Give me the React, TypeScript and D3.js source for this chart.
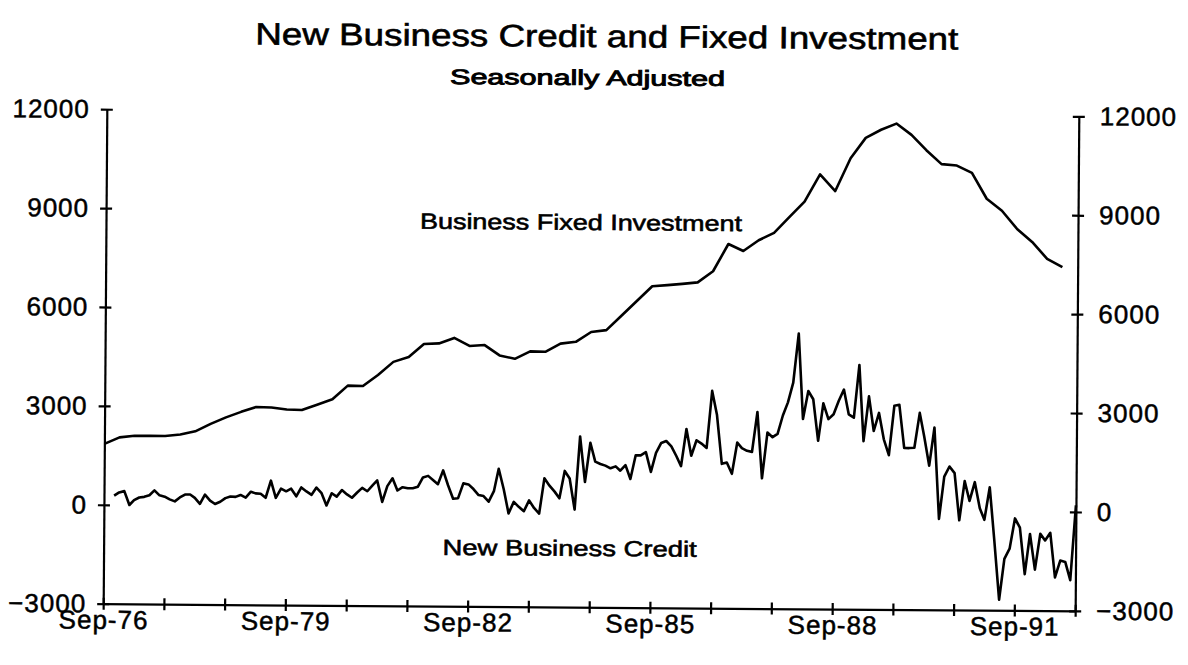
import React, { useEffect, useRef } from 'react';
import * as d3 from 'd3';

// chart texts
const chartTitle = 'New Business Credit and Fixed Investment';
const chartSubtitle = 'Seasonally Adjusted';
const investmentLabel = 'Business Fixed Investment';
const creditLabel = 'New Business Credit';

// axis ticks
const yTicks = [-3000, 0, 3000, 6000, 9000, 12000];
const labelYears = [1976, 1979, 1982, 1985, 1988, 1991];

// Business fixed investment, quarterly, Q3-1976 .. Q2-1992
const fixedInvestment = [
  1850, 2050, 2100, 2100, 2100, 2150, 2250, 2480, 2680, 2850, 3000, 2990, 2930, 2920, 3080, 3250,
  3670, 3660, 4000, 4400, 4550, 4950, 4970, 5140, 4900, 4930, 4620, 4520, 4750, 4740, 4990, 5050,
  5350, 5410, 5850, 6300, 6750, 6790, 6830, 6880, 7220, 8050, 7840, 8170, 8400, 8880, 9350, 10180,
  9680, 10680, 11300, 11550, 11740, 11400, 10940, 10520, 10480, 10260, 9480, 9120, 8570, 8180, 7670, 7420,
];

// New business credit, monthly, Nov-1976 .. Sep-1992
const newCredit = [
  280, 380, 420, 0, 150, 230, 250, 300, 450, 300, 260, 180, 120, 240, 330, 330,
  230, 50, 330, 150, 50, 120, 230, 280, 270, 330, 250, 430, 380, 370, 250, 770,
  250, 530, 450, 530, 300, 570, 450, 350, 570, 400, 30, 400, 300, 500, 370, 270,
  430, 570, 470, 650, 800, 150, 630, 870, 500, 600, 570, 570, 620, 900, 950, 820,
  700, 1120, 670, 260, 280, 730, 700, 560, 380, 350, 180, 500, 1180, 560, -170, 180,
  30, -100, 230, 0, -170, 900, 680, 500, 300, 1130, 900, -40, 2180, 800, 1990, 1420,
  1350, 1300, 1220, 1280, 1150, 1320, 900, 1620, 1620, 1720, 1120, 1700, 2000, 2060, 1900, 1600,
  1300, 2430, 1620, 2090, 1990, 1860, 3590, 2860, 1380, 1420, 1080, 2030, 1860, 1780, 1750, 2960,
  950, 2340, 2200, 2300, 2860, 3260, 3860, 5350, 2760, 3610, 3360, 2100, 3240, 2760, 2910, 3310,
  3660, 2910, 2810, 4410, 2100, 3460, 2410, 2960, 2160, 1680, 3180, 3210, 1900, 1900, 1910, 2970,
  2250, 1370, 2530, -240, 1040, 1350, 1150, -280, 910, 310, 880, 90, -260, 730, -900, -2680,
  -1440, -1130, -210, -490, -1900, -680, -1760, -670, -870, -640, -1990, -1480, -1520, -2070, 200,
];

const width = 1188;
const height = 665;
const plot = { left: 105, right: 1077, top: 112.8, bottom: 607.3 };
// the scanned page is slightly tilted
const tilt = 0.42;
const font = "'Liberation Sans', Arial, Helvetica, sans-serif";

const App: React.FC = () => {
  const svgRef = useRef<SVGSVGElement>(null);

  useEffect(() => {
    if (!svgRef.current) return;
    const svg = d3.select(svgRef.current);
    svg.selectAll('*').remove();

    const start = new Date(1976, 8, 1);
    const end = new Date(1992, 8, 1);

    const x = d3.scaleTime().domain([start, end]).range([plot.left, plot.right]);
    const y = d3.scaleLinear().domain([-3000, 12000]).range([plot.bottom, plot.top]);

    const g = svg.append('g').attr('transform', `rotate(${tilt}, ${width / 2}, 360)`);

    // scanned print: text a little heavier than the regular face
    const ink = (sel: d3.Selection<any, any, any, any>, w = 0.5) =>
      sel.attr('fill', '#000').attr('stroke', '#000').attr('stroke-width', w).style('font-family', font);

    // titles
    g.append('text')
      .attr('x', 253)
      .attr('y', 47)
      .attr('textLength', 703)
      .attr('lengthAdjust', 'spacingAndGlyphs')
      .style('font-size', '31px')
      .text(chartTitle)
      .call(ink, 0.6);

    g.append('text')
      .attr('x', 448)
      .attr('y', 85)
      .attr('textLength', 275)
      .attr('lengthAdjust', 'spacingAndGlyphs')
      .style('font-size', '21px')
      .text(chartSubtitle)
      .call(ink, 0.9);

    // axes
    const styleAxis = (sel: d3.Selection<SVGGElement, unknown, null, undefined>) => {
      sel.select('.domain').attr('stroke', '#000').attr('stroke-width', 2.2);
      sel.selectAll('.tick line').attr('stroke', '#000').attr('stroke-width', 2.2);
      sel.selectAll('.tick text')
        .style('font-size', '26px')
        .style('letter-spacing', '1px')
        .call(ink, 0.5);
    };

    const left = g.append('g')
      .attr('transform', `translate(${plot.left},0)`)
      .call(d3.axisLeft(y).tickValues(yTicks).tickSize(6).tickSizeOuter(0).tickPadding(11).tickFormat(d3.format('d')));
    left.selectAll('.tick line').attr('x1', 6);
    styleAxis(left);

    const right = g.append('g')
      .attr('transform', `translate(${plot.right},0)`)
      .call(d3.axisRight(y).tickValues(yTicks).tickSize(6).tickSizeOuter(0).tickPadding(15).tickFormat(d3.format('d')));
    right.selectAll('.tick line').attr('x1', -6);
    styleAxis(right);

    const yearTicks = d3.range(1976, 1993).map(yr => new Date(yr, 8, 1));
    const fmt = d3.timeFormat('%b-%y');
    const bottom = g.append('g')
      .attr('transform', `translate(0,${plot.bottom})`)
      .call(d3.axisBottom(x)
        .tickValues(yearTicks)
        .tickSize(6)
        .tickSizeOuter(0)
        .tickFormat(d => (labelYears.includes((d as Date).getFullYear()) ? fmt(d as Date) : '')));
    bottom.selectAll('.tick line').attr('y1', -6);
    styleAxis(bottom);
    bottom.selectAll('.tick text').attr('y', 25).attr('dy', 0);

    // series
    const invData = fixedInvestment.map((v, i) => ({ date: new Date(1976, 8 + i * 3, 1), value: v }));
    const creditData = newCredit.map((v, i) => ({ date: new Date(1976, 10 + i, 1), value: v }));

    const line = d3.line<{ date: Date; value: number }>()
      .x(d => x(d.date))
      .y(d => y(d.value));

    g.append('path')
      .datum(invData)
      .attr('d', line)
      .attr('fill', 'none')
      .attr('stroke', '#000')
      .attr('stroke-width', 2.6)
      .attr('stroke-linejoin', 'round');

    g.append('path')
      .datum(creditData)
      .attr('d', line)
      .attr('fill', 'none')
      .attr('stroke', '#000')
      .attr('stroke-width', 2.6)
      .attr('stroke-linejoin', 'round');

    // series labels
    g.append('text')
      .attr('x', 419)
      .attr('y', 230)
      .attr('textLength', 322)
      .attr('lengthAdjust', 'spacingAndGlyphs')
      .style('font-size', '22px')
      .text(investmentLabel)
      .call(ink, 0.6);

    g.append('text')
      .attr('x', 444)
      .attr('y', 556)
      .attr('textLength', 254)
      .attr('lengthAdjust', 'spacingAndGlyphs')
      .style('font-size', '22px')
      .text(creditLabel)
      .call(ink, 0.6);
  }, []);

  return (
    <svg
      ref={svgRef}
      width={width}
      height={height}
      viewBox={`0 0 ${width} ${height}`}
      style={{ position: 'absolute', left: 0, top: 0, background: '#fff' }}
    />
  );
};

export default App;
